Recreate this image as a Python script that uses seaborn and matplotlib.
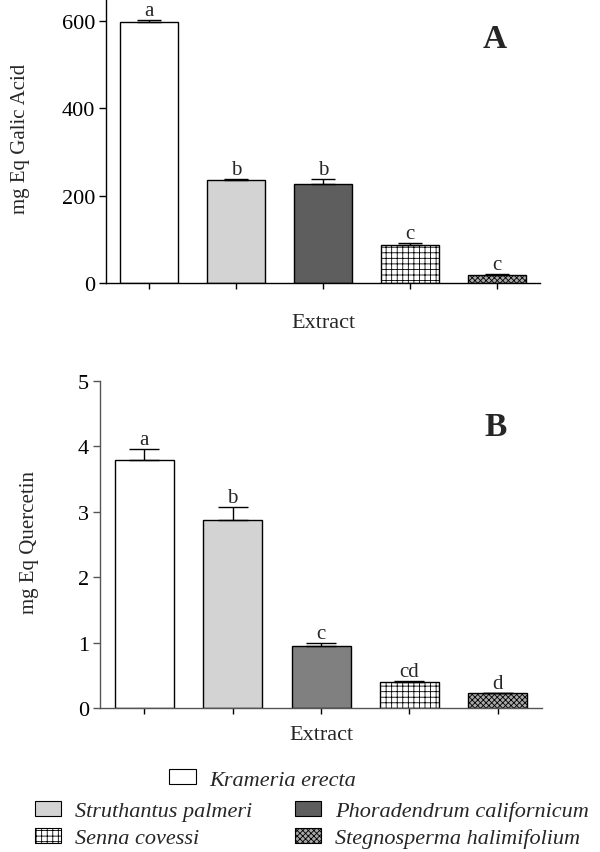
import numpy as np
import pandas as pd
import matplotlib
matplotlib.use("Agg")
import matplotlib.pyplot as plt
import seaborn as sns
from matplotlib.patches import Patch

# data
species = ["Krameria erecta", "Struthantus palmeri", "Phoradendrum californicum",
           "Senna covessi", "Stegnosperma halimifolium"]
phenol_mean = [598, 235, 227, 86, 18]
phenol_err = [3, 3, 10, 5, 2]
phenol_letters = ["a", "b", "b", "c", "c"]
flav_mean = [3.80, 2.87, 0.95, 0.40, 0.23]
flav_err = [0.16, 0.20, 0.05, 0.02, 0.01]
flav_letters = ["a", "b", "c", "cd", "d"]

fills_a = ["white", "#d3d3d3", "#5e5e5e", "white", "#a8a8a8"]
fills_b = ["white", "#d3d3d3", "#808080", "white", "#a8a8a8"]
hatches = [None, None, None, "+++", "xxxxxx"]

sns.set_theme(style="ticks")
plt.rcParams["font.family"] = ["Liberation Serif", "DejaVu Serif"]
plt.rcParams["hatch.linewidth"] = 0.6
plt.rcParams["hatch.color"] = "black"

fig = plt.figure(figsize=(6, 8.53), dpi=100)
ax_a = fig.add_axes([0.1767, 0.667, 0.7233, 0.333])
ax_b = fig.add_axes([0.1667, 0.1685, 0.7367, 0.3837])


def draw_panel(ax, means, errs, letters, fills, ylim, yticks, ylabel, tag,
               capsize, spine_col, ylab_x, xlab_y):
    df = pd.DataFrame({"species": species, "value": means})
    sns.barplot(data=df, x="species", y="value", hue="species", order=species,
                hue_order=species, palette=fills, edgecolor="black",
                linewidth=1.0, width=0.667, legend=False, ax=ax, saturation=1)
    for patch, h in zip(ax.patches, hatches):
        if h:
            patch.set_hatch(h)
    xs = np.arange(len(species))
    ax.errorbar(xs, means, yerr=[np.zeros(len(errs)), errs], fmt="none",
                ecolor="black", elinewidth=1.0, capsize=capsize, capthick=1.0)
    for x, m, e, t in zip(xs, means, errs, letters):
        ax.annotate(t, (x, m + e), xytext=(0, 0), textcoords="offset points",
                    ha="center", va="bottom", fontsize=15)
    ax.set_xlim(-0.5, 4.5)
    ax.set_ylim(*ylim)
    ax.set_yticks(yticks)
    ax.set_xticks(xs)
    ax.set_xticklabels([])
    ax.tick_params(axis="y", direction="out", length=5, width=1, labelsize=16,
                   pad=3, colors=spine_col, labelcolor="black")
    ax.tick_params(axis="x", direction="out", length=4, width=1, colors="black")
    sns.despine(ax=ax)
    for s in ("left", "bottom"):
        ax.spines[s].set_color(spine_col)
        ax.spines[s].set_linewidth(1.0)
    ax.set_ylabel(ylabel, fontsize=15)
    ax.set_xlabel("Extract", fontsize=16)
    ax.yaxis.set_label_coords(ylab_x, 0.51)
    ax.xaxis.set_label_coords(0.5, xlab_y)
    ax.text(0.895, 0.86, tag, transform=ax.transAxes, fontsize=24,
            fontweight="bold", ha="center", va="center")
    ax.set_facecolor("white")


draw_panel(ax_a, phenol_mean, phenol_err, phenol_letters, fills_a, (0, 650),
           [0, 200, 400, 600], "mg Eq Galic Acid", "A", 8.5, "black",
           -0.175, -0.104)
draw_panel(ax_b, flav_mean, flav_err, flav_letters, fills_b, (0, 5),
           [0, 1, 2, 3, 4, 5], "mg Eq Quercetin", "B", 10.5, "#555555",
           -0.138, -0.05)

handles = [Patch(facecolor=f, edgecolor="black", hatch=h, linewidth=0.8)
           for f, h in zip(fills_a, hatches)]
leg_font = {"style": "italic", "size": 16}
leg_kw = dict(frameon=False, prop=leg_font, handlelength=1.2, handleheight=0.65,
              handletextpad=0.63, borderpad=0.2)
fig.legend(handles[:1], species[:1], loc="center", bbox_to_anchor=(0.438, 0.085),
           **leg_kw)
# ncol=2 fills by column, so interleave to get the reference's row order
order = [1, 3, 2, 4]
fig.legend([handles[i] for i in order], [species[i] for i in order],
           loc="center", bbox_to_anchor=(0.52, 0.032), ncol=2,
           columnspacing=1.9, labelspacing=0.3, **leg_kw)

fig.savefig("out.png", dpi=100, facecolor="white")
